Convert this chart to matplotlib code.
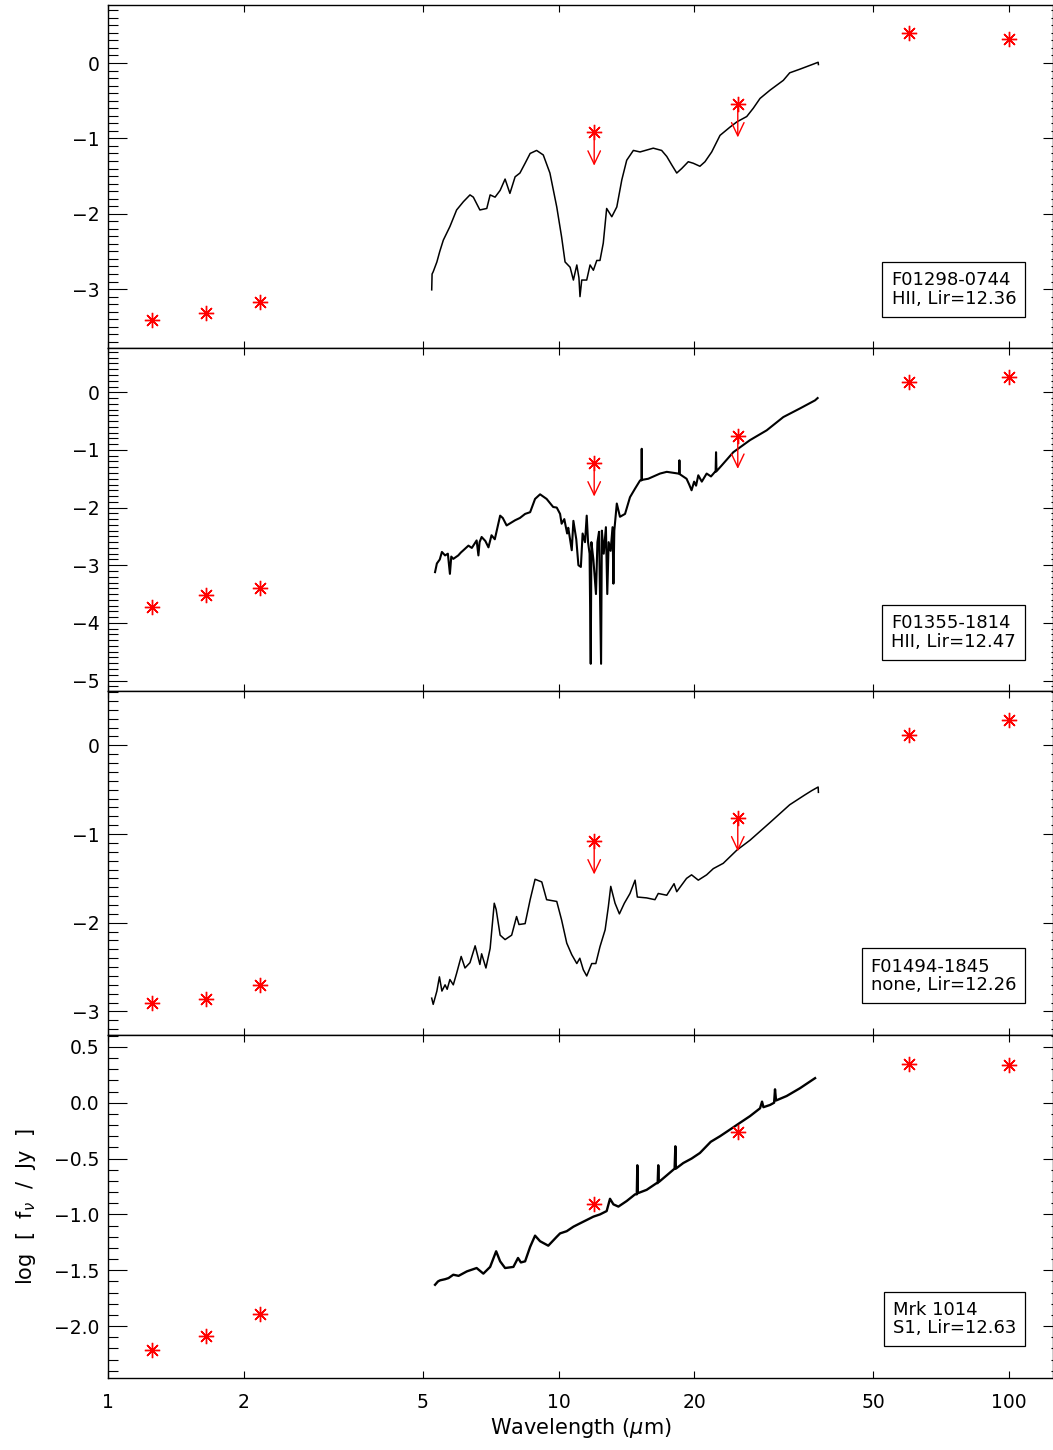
import numpy as np
import matplotlib
matplotlib.use("Agg")
import matplotlib.pyplot as plt
from matplotlib.ticker import MultipleLocator, FixedLocator, NullLocator, ScalarFormatter

plt.rcParams["font.family"] = ["DejaVu Sans"]
plt.rcParams["mathtext.fontset"] = "dejavusans"
plt.rcParams["axes.linewidth"] = 1.0

# photometry: 2MASS J,H,K + IRAS 12,25,60,100
phot_wave = [1.25, 1.65, 2.17, 12.0, 25.0, 60.0, 100.0]

# ---- F01298-0744 ----
spec1_wave = [5.23, 5.24, 5.27, 5.37, 5.45, 5.55, 5.74, 5.94, 6.15, 6.36, 6.47, 6.69, 6.93, 7.05,
              7.23, 7.42, 7.61, 7.80, 8.01, 8.21, 8.43, 8.65, 8.94, 9.25, 9.57, 9.91, 10.16, 10.34,
              10.61, 10.79, 10.98, 11.10, 11.16, 11.26, 11.55, 11.75, 11.95, 12.16, 12.36, 12.57,
              12.79, 13.13, 13.47, 13.82, 14.17, 14.66, 15.17, 16.23, 16.94, 17.39, 17.83, 18.30,
              18.77, 19.41, 19.91, 20.6, 21.14, 21.88, 22.83, 24.03, 24.9, 26.17, 27.06, 28.01,
              29.48, 31.55, 32.6, 34.4, 36.2, 37.7, 37.75]
spec1_flux = [-3.01, -2.80, -2.77, -2.64, -2.50, -2.35, -2.17, -1.95, -1.84, -1.75, -1.78, -1.95, -1.93, -1.75,
              -1.78, -1.69, -1.54, -1.73, -1.51, -1.46, -1.33, -1.20, -1.16, -1.22, -1.46, -1.91, -2.31, -2.64,
              -2.71, -2.88, -2.68, -2.85, -3.10, -2.88, -2.88, -2.68, -2.75, -2.62, -2.62, -2.39,
              -1.93, -2.04, -1.91, -1.55, -1.29, -1.16, -1.18, -1.13, -1.16, -1.24, -1.35, -1.46,
              -1.40, -1.31, -1.33, -1.37, -1.31, -1.18, -0.96, -0.85, -0.78, -0.71, -0.60, -0.47,
              -0.36, -0.23, -0.13, -0.08, -0.03, 0.01, -0.02]
phot1 = [-3.41, -3.32, -3.17, -0.92, -0.545, 0.40, 0.32]
ulim1 = [False, False, False, True, True, False, False]

# ---- F01355-1814 ----
spec2_wave = [5.32, 5.37, 5.45, 5.51, 5.60, 5.68, 5.74, 5.78, 5.84, 5.99, 6.07, 6.15, 6.31, 6.42,
              6.58, 6.64, 6.68, 6.75, 6.88, 6.99, 7.10, 7.22, 7.42, 7.52, 7.67, 8.01, 8.21, 8.43,
              8.65, 8.87, 9.10, 9.41, 9.73, 9.91, 10.08, 10.16, 10.30, 10.45, 10.51, 10.70, 10.79,
              10.95, 11.07, 11.21, 11.31, 11.45, 11.55, 11.63, 11.72, 11.79, 11.83, 11.95, 12.11,
              12.20, 12.30, 12.43, 12.48, 12.60, 12.74, 12.83, 12.92, 13.05, 13.18, 13.24, 13.30,
              13.47, 13.69, 14.05, 14.41, 14.79, 15.17, 15.28, 15.30, 15.32, 15.82, 16.80, 17.39,
              18.45, 18.52, 18.55, 18.58, 19.24, 19.50, 19.74, 20.0, 20.20, 20.43, 20.8, 21.32,
              21.8, 22.25, 22.32, 22.37, 22.42, 23.02, 24.43, 26.61, 28.98, 31.55, 34.36, 37.11, 37.6]
spec2_flux = [-3.12, -2.97, -2.90, -2.77, -2.83, -2.80, -3.15, -2.85, -2.89, -2.83, -2.78, -2.74, -2.66, -2.70,
              -2.57, -2.83, -2.60, -2.51, -2.58, -2.69, -2.48, -2.55, -2.14, -2.18, -2.31, -2.22, -2.18, -2.11,
              -2.08, -1.85, -1.77, -1.85, -1.99, -2.00, -2.11, -2.28, -2.20, -2.45, -2.35, -2.74, -2.23,
              -2.55, -3.00, -3.03, -2.45, -2.60, -2.14, -2.60, -2.80, -4.71, -2.60, -2.90, -3.50,
              -2.60, -2.42, -4.71, -2.40, -2.80, -2.34, -3.50, -2.60, -2.75, -2.34, -3.32, -2.40,
              -1.93, -2.16, -2.11, -1.82, -1.67, -1.53, -1.53, -0.98, -1.52, -1.50, -1.41, -1.38,
              -1.41, -1.41, -1.18, -1.42, -1.50, -1.60, -1.70, -1.55, -1.62, -1.44, -1.55, -1.41,
              -1.46, -1.38, -1.38, -1.04, -1.37, -1.27, -1.04, -0.83, -0.66, -0.43, -0.28, -0.14, -0.10]
phot2 = [-3.72, -3.51, -3.40, -1.23, -0.75, 0.17, 0.26]
ulim2 = [False, False, False, True, True, False, False]

# ---- F01494-1845 ----
spec3_wave = [5.23, 5.27, 5.37, 5.44, 5.51, 5.60, 5.66, 5.74, 5.84, 5.94, 6.08, 6.20, 6.36, 6.53,
              6.69, 6.75, 6.90, 7.05, 7.20, 7.27, 7.42, 7.61, 7.87, 8.07, 8.17, 8.43, 8.65, 8.87,
              9.18, 9.41, 9.91, 10.16, 10.43, 10.70, 10.98, 11.15, 11.35, 11.55, 11.85, 12.1, 12.36,
              12.69, 12.90, 13.06, 13.35, 13.65, 14.0, 14.41, 14.79, 14.96, 15.69, 16.37, 16.65,
              17.39, 18.05, 18.30, 19.24, 19.74, 20.43, 21.32, 22.06, 23.21, 24.9, 26.61, 29.48,
              32.6, 35.2, 36.5, 37.7, 37.75]
spec3_flux = [-2.85, -2.92, -2.77, -2.61, -2.77, -2.70, -2.75, -2.64, -2.70, -2.57, -2.38, -2.51, -2.45, -2.26,
              -2.47, -2.35, -2.51, -2.29, -1.78, -1.85, -2.14, -2.19, -2.14, -1.93, -2.02, -2.01, -1.74, -1.51,
              -1.54, -1.74, -1.76, -1.97, -2.23, -2.36, -2.46, -2.40, -2.53, -2.60, -2.46, -2.46, -2.27,
              -2.08, -1.82, -1.59, -1.78, -1.90, -1.78, -1.67, -1.52, -1.71, -1.72, -1.74, -1.67,
              -1.69, -1.56, -1.65, -1.50, -1.46, -1.52, -1.46, -1.39, -1.33, -1.18, -1.07, -0.87,
              -0.67, -0.56, -0.51, -0.47, -0.53]
phot3 = [-2.91, -2.86, -2.70, -1.08, -0.82, 0.12, 0.28]
ulim3 = [False, False, False, True, True, False, False]

# ---- Mrk 1014 ----
spec4_wave = [5.32, 5.40, 5.46, 5.60, 5.70, 5.84, 6.0, 6.26, 6.58, 6.81, 7.05, 7.27, 7.42, 7.61,
              7.94, 8.13, 8.25, 8.43, 8.65, 8.87, 9.10, 9.49, 9.91, 10.08, 10.43, 10.79, 11.16,
              11.55, 11.95, 12.36, 12.79, 13.01, 13.24, 13.58, 14.17, 14.79, 14.92, 14.96, 15.0,
              15.69, 16.51, 16.60, 16.65, 16.70, 17.39, 18.10, 18.17, 18.22, 18.92, 19.74, 20.6,
              21.77, 22.83, 24.03, 25.28, 26.61, 28.01, 28.3, 28.5, 29.48, 30.1, 30.24, 30.4,
              32.09, 34.36, 36.79, 37.11]
spec4_flux = [-1.63, -1.60, -1.59, -1.58, -1.57, -1.54, -1.55, -1.51, -1.48, -1.53, -1.47, -1.33, -1.42, -1.48,
              -1.47, -1.39, -1.43, -1.42, -1.29, -1.19, -1.24, -1.28, -1.20, -1.17, -1.15, -1.11, -1.08,
              -1.05, -1.02, -1.00, -0.97, -0.86, -0.91, -0.93, -0.88, -0.82, -0.82, -0.56, -0.81,
              -0.78, -0.72, -0.72, -0.56, -0.71, -0.65, -0.59, -0.39, -0.59, -0.54, -0.50, -0.45,
              -0.35, -0.30, -0.24, -0.18, -0.12, -0.05, 0.01, -0.04, -0.02, 0.00, 0.12, 0.02,
              0.06, 0.13, 0.21, 0.22]
phot4 = [-2.21, -2.09, -1.89, -0.905, -0.26, 0.35, 0.34]
ulim4 = [False] * 7

names = ["F01298-0744\nHII, Lir=12.36", "F01355-1814\nHII, Lir=12.47",
         "F01494-1845\nnone, Lir=12.26", "Mrk 1014\nS1, Lir=12.63"]
ylims = [(-3.785, 0.77), (-5.19, 0.764), (-3.262, 0.607), (-2.464, 0.609)]
ymajor = [1, 1, 1, 0.5]

spec_wave = [spec1_wave, spec2_wave, spec3_wave, spec4_wave]
spec_flux = [spec1_flux, spec2_flux, spec3_flux, spec4_flux]
phot = [phot1, phot2, phot3, phot4]
ulims = [ulim1, ulim2, ulim3, ulim4]
spec_lw = [1.1, 1.5, 1.1, 1.7]

fig, axes = plt.subplots(4, 1, figsize=(10.53, 14.5), dpi=100, sharex=True)
fig.subplots_adjust(left=0.1026, right=1.0, top=0.99655, bottom=0.0497, hspace=0)

xmax = 10 ** ((1053 - 108) / 450.5)

for i, ax in enumerate(axes):
    ax.set_xscale("log")
    ax.set_xlim(1, xmax)
    ax.set_ylim(*ylims[i])

    ax.plot(spec_wave[i], spec_flux[i], color="black", lw=spec_lw[i])
    ax.plot(phot_wave, phot[i], linestyle="none", marker=(8, 2, 0), markersize=11,
            markeredgewidth=1.0, color="red")
    for w, f, u in zip(phot_wave, phot[i], ulims[i]):
        if u:
            ax.annotate("", xy=(w, f), xytext=(0, -24), textcoords="offset points",
                        arrowprops=dict(arrowstyle="<-, head_length=0.95, head_width=0.45",
                                        color="red", lw=1.0, shrinkA=0, shrinkB=0,
                                        mutation_scale=10))

    # axes ticks
    ax.xaxis.set_major_locator(FixedLocator([1, 2, 5, 10, 20, 50, 100]))
    ax.xaxis.set_minor_locator(NullLocator())
    ax.xaxis.set_major_formatter(matplotlib.ticker.FuncFormatter(lambda v, p: "%g" % v))
    ax.tick_params(axis="x", which="major", direction="in", top=True, bottom=True,
                   length=5, width=0.8, labelsize=13.5, pad=11)
    ax.yaxis.set_major_locator(MultipleLocator(ymajor[i]))
    ax.yaxis.set_minor_locator(MultipleLocator(0.1))
    ax.yaxis.set_major_formatter(ScalarFormatter())
    ax.tick_params(axis="y", which="major", direction="in", left=True, right=False,
                   length=13.5, width=0.8, labelsize=13.5, pad=6)
    ax.tick_params(axis="y", which="minor", direction="in", left=True, right=False,
                   length=7, width=0.8)

    sec = ax.secondary_yaxis("right")
    sec.yaxis.set_major_locator(MultipleLocator(ymajor[i]))
    sec.yaxis.set_minor_locator(MultipleLocator(0.1))
    sec.tick_params(which="major", direction="in", length=7, width=0.8, labelright=False)
    sec.tick_params(which="minor", direction="in", length=1.5, width=0.8)
    sec.spines["right"].set_visible(False)

    ax.text(0.961, 0.118, names[i], transform=ax.transAxes, ha="right", va="bottom",
            multialignment="left", fontsize=13, linespacing=1.05,
            bbox=dict(boxstyle="square,pad=0.5", facecolor="white", edgecolor="black", lw=0.9))

axes[-1].set_xlabel(r"Wavelength ($\mu$m)", fontsize=15, labelpad=3)
axes[-1].set_ylabel(r"log  [  f$_\nu$  /  Jy  ]", fontsize=15, labelpad=12)

fig.savefig("out.png", dpi=100)
